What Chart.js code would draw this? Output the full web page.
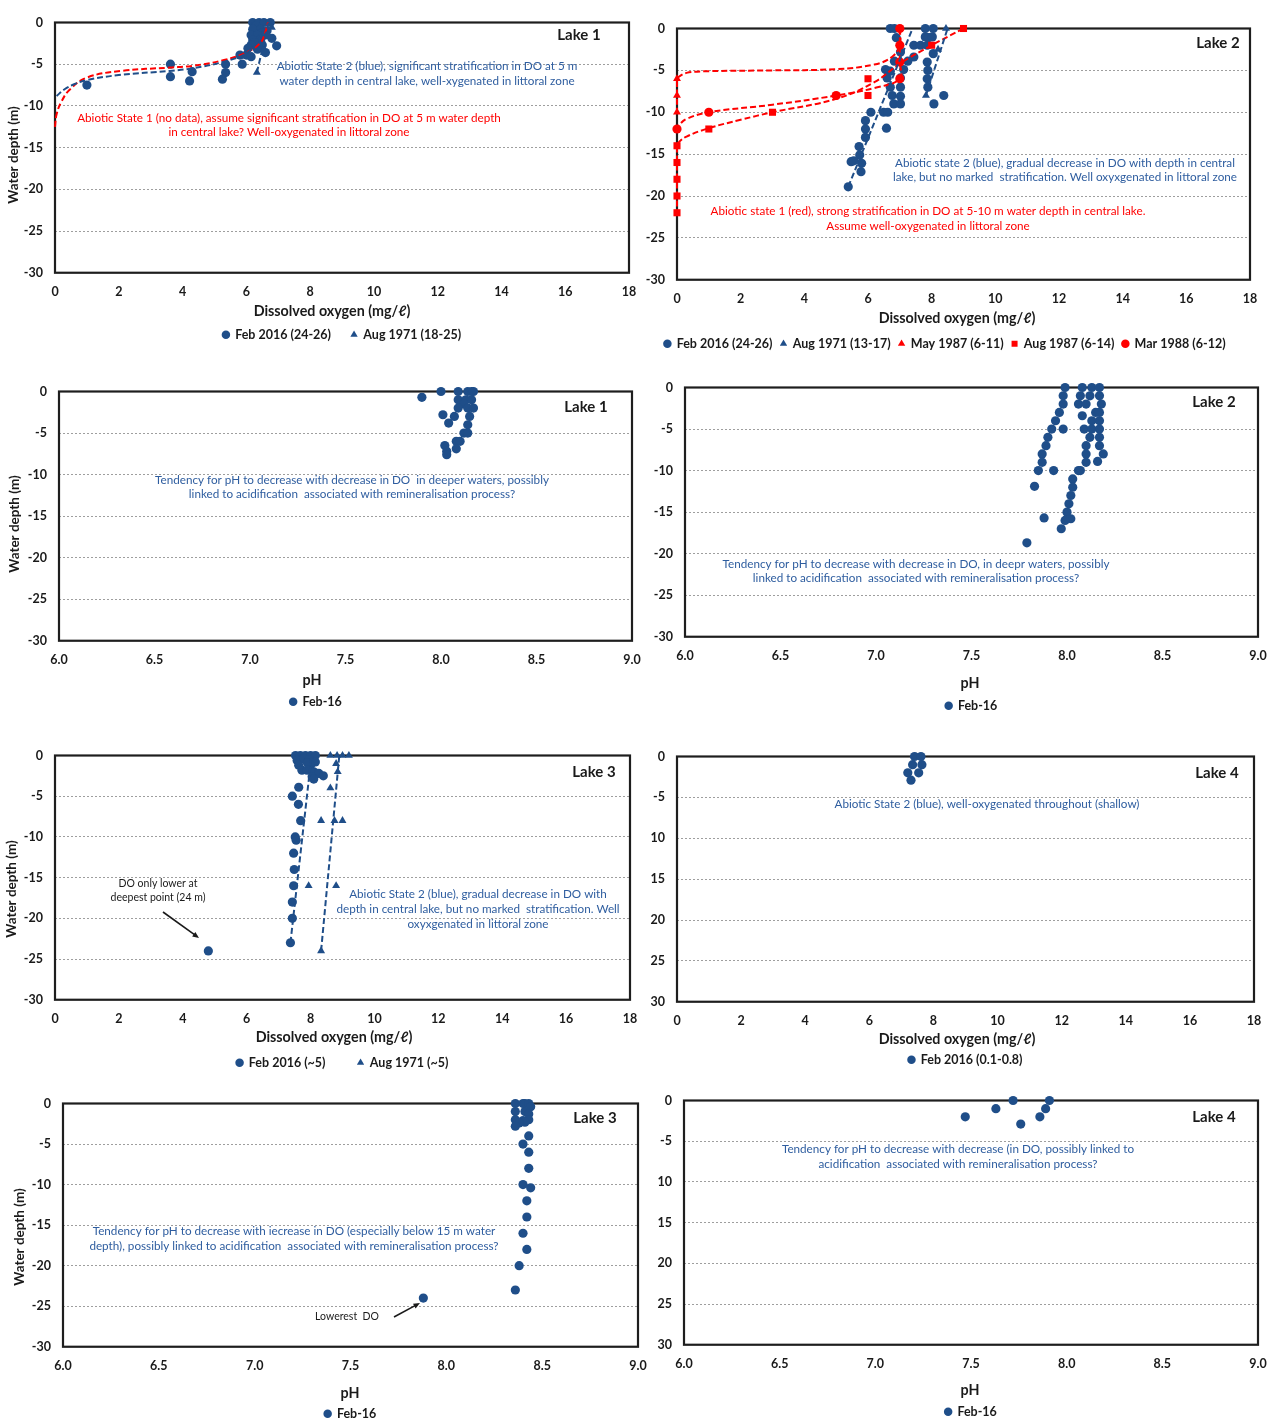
<!DOCTYPE html>
<html>
<head>
<meta charset="utf-8">
<title>Lake profiles: dissolved oxygen and pH with depth</title>
<script src="https://cdn.jsdelivr.net/npm/chart.js@4.4.1/dist/chart.umd.min.js"></script>
<style>
  html, body { margin: 0; padding: 0; background: #ffffff; }
  body { position: relative; width: 1275px; height: 1426px; overflow: hidden; }
  canvas { position: absolute; }
</style>
</head>
<body>
<script>
// ---------- Tick labels ----------
const depthTicks      = ['0', '-5', '-10', '-15', '-20', '-25', '-30'];
const depthTicksLake4 = ['0', '-5', '10', '15', '20', '25', '30'];
const doTicks         = ['0', '2', '4', '6', '8', '10', '12', '14', '16', '18'];
const phTicks         = ['6.0', '6.5', '7.0', '7.5', '8.0', '8.5', '9.0'];

// ---------- Lake 1: dissolved oxygen [DO mg/l, depth m] ----------
const lake1DoFeb2016 = [
  [6.2, 0], [6.4, 0], [6.55, 0], [6.75, 0], [6.3, -0.4],
  [6.2, -0.8], [6.45, -0.8], [6.65, -1], [6.5, -1.2],
  [6.15, -1.5], [6.35, -1.5], [6.6, -1.5],
  [6.2, -2.1], [6.45, -2], [6.8, -1.9], [6.25, -2.4],
  [6.15, -2.7], [6.5, -2.7], [6.95, -2.8],
  [6.05, -3.1], [6.35, -3.2], [6.6, -3.6],
  [5.8, -3.9], [6.0, -3.9], [6.15, -4.1],
  [5.35, -5], [5.87, -5], [5.35, -6], [5.25, -6.8],
  [4.3, -5.9], [4.22, -7.0], [3.62, -5.0], [3.62, -6.5], [1.0, -7.5]
];
const lake1DoAug1971 = [[6.8, -0.6], [6.55, -3.2], [6.33, -6.0]];
const lake1DoAug1971Trend = [[6.33, -6.0], [6.7, 0]];
const lake1DoFeb2016Curve = [
  [0.05, -8.8], [0.3, -8.0], [0.6, -7.4], [1.0, -6.9], [2.0, -6.3], [3.6, -5.8],
  [4.3, -5.5], [5.3, -4.7], [6.0, -3.7], [6.35, -2.3], [6.5, -1.2]
];
const lake1DoState1Curve = [
  [0, -12.5], [0.05, -11], [0.2, -9.5], [0.45, -8.1], [1.0, -6.6], [2.1, -5.8],
  [3.6, -5.4], [4.3, -5.2], [5.3, -4.5], [6.0, -3.6], [6.45, -2.4], [6.6, -1.1], [6.68, 0]
];

// ---------- Lake 2: dissolved oxygen ----------
const lake2DoFeb2016 = [
  [6.7, 0], [6.83, 0], [7.8, 0], [8.05, 0],
  [6.89, -1.1], [7.8, -1], [7.9, -1.1], [8.02, -1],
  [7.44, -2], [7.65, -2], [7.86, -2],
  [7.02, -2.8], [7.44, -3.4], [8.05, -3],
  [6.83, -3.9], [7.25, -3.9], [7.86, -4],
  [6.55, -4.9], [6.7, -5.1], [7.12, -4.9], [7.88, -5],
  [6.6, -5.9], [7.02, -5.9], [7.86, -6],
  [6.7, -7], [7.02, -7], [7.88, -7],
  [6.76, -8], [7.02, -8.1], [8.38, -8],
  [6.81, -9], [7.02, -9], [8.07, -9],
  [6.09, -10], [6.49, -10], [6.62, -10],
  [5.92, -11], [5.92, -12], [6.58, -11.9],
  [5.92, -13], [5.72, -14.1], [5.74, -15.1],
  [5.47, -15.9], [5.55, -15.8], [5.8, -16.1], [5.78, -17.1], [5.38, -18.9]
];
const lake2DoAug1971 = [[8.45, 0], [8.2, -2.5], [7.82, -8]];
const lake2DoMay1987 = [[7, 0], [7, -2], [7, -4], [0, -6], [0, -8], [0, -10]];
const lake2DoAug1987 = [[9, 0], [8, -2], [6, -6], [6, -8], [3, -10], [1, -12], [0, -14], [0, -16], [0, -18], [0, -20], [0, -22]];
const lake2DoMar1988 = [[7, 0], [7, -2], [7, -4], [7, -6], [5, -8], [1, -10], [0, -12]];
const lake2DoFeb2016Trend = [[5.38, -18.9], [7.4, 0]];
const lake2DoAug1971Trend = [[7.82, -8], [8.5, 0]];
const lake2DoMay1987Curve = [
  [7, 0], [7, -2], [6.75, -3.4], [6.2, -4.3], [5, -4.85], [3, -5.0], [1, -5.1],
  [0.3, -5.3], [0.05, -5.8], [0, -6.2], [0, -8], [0, -10]
];
const lake2DoMar1988Curve = [
  [7, 0], [7, -2], [7, -4], [7, -6], [6.2, -7.1], [5, -8], [3, -9.1], [1, -10],
  [0.3, -10.8], [0.05, -11.6], [0, -12]
];
const lake2DoAug1987Curve = [
  [9, 0], [8, -2], [7, -4.2], [6.2, -6.4], [5, -8.4], [3, -10], [2, -10.9], [1, -11.9],
  [0.3, -12.9], [0.05, -13.6], [0, -14], [0, -16], [0, -18], [0, -20], [0, -22]
];

// ---------- Lake 3: dissolved oxygen ----------
const lake3DoFeb2016 = [
  [7.53, 0], [7.68, 0], [7.84, 0], [8.0, 0], [8.15, 0],
  [7.58, -0.6], [7.79, -0.4], [7.95, -0.5], [8.15, -0.8],
  [7.63, -1.2], [8.0, -1.2], [7.9, -0.9],
  [7.73, -1.8], [7.89, -1.8], [8.1, -2], [8.26, -2.2], [8.4, -2.5],
  [8.05, -2.6], [8.1, -2.9],
  [7.63, -3.9], [7.43, -5], [7.62, -6], [7.69, -8],
  [7.52, -10], [7.55, -10.4], [7.47, -12], [7.49, -14], [7.47, -16],
  [7.43, -18], [7.43, -20], [7.37, -23], [4.8, -24]
];
const lake3DoAug1971 = [
  [8.62, 0], [8.83, 0], [9.0, 0], [9.2, 0], [8.8, -1], [8.85, -2], [8.62, -4],
  [8.33, -8], [8.75, -8], [9.0, -8], [7.94, -16], [8.8, -16], [8.33, -24]
];
const lake3DoFeb2016Trend = [[7.37, -23], [8.03, 0]];
const lake3DoAug1971Trend = [[8.33, -24], [8.9, 0]];

// ---------- Lake 4: dissolved oxygen ----------
const lake4DoFeb2016 = [[7.41, 0], [7.61, 0], [7.35, -1], [7.64, -1], [7.2, -2], [7.54, -2], [7.3, -2.9]];

// ---------- pH profiles, Feb 2016 [pH, depth m] ----------
const lake1PhFeb2016 = [
  [7.90, -0.7], [8.00, 0], [8.09, 0], [8.14, 0], [8.16, 0], [8.17, 0],
  [8.09, -1], [8.13, -1], [8.16, -1], [8.12, -1.5], [8.09, -2], [8.14, -2], [8.17, -2],
  [8.01, -2.8], [8.07, -3], [8.15, -3], [8.04, -3.8], [8.14, -4], [8.12, -5], [8.14, -5],
  [8.08, -6], [8.10, -6], [8.02, -6.5], [8.08, -6.9], [8.03, -7.2], [8.03, -7.6]
];
const lake2PhFeb2016 = [
  [7.99, 0], [8.08, 0], [8.13, 0], [8.17, 0],
  [7.98, -1], [8.07, -1], [8.12, -1], [8.17, -1],
  [7.98, -2], [8.06, -2], [8.10, -2], [8.18, -2],
  [7.96, -3], [8.15, -3], [8.17, -3], [8.08, -3.4],
  [7.94, -4], [8.13, -4], [8.17, -4],
  [7.92, -5], [7.98, -5], [8.09, -5], [8.13, -5], [8.17, -5],
  [7.90, -6], [8.12, -6], [8.17, -6],
  [7.89, -7], [8.10, -7], [8.17, -7],
  [7.87, -8], [8.10, -8], [8.19, -8],
  [7.87, -9], [8.10, -9], [8.16, -8.9],
  [7.85, -10], [7.93, -10], [8.06, -10], [8.07, -10],
  [8.03, -11], [7.83, -11.9], [8.03, -12], [8.02, -13], [8.01, -14], [8.00, -15],
  [7.88, -15.7], [8.02, -15.8], [7.99, -16], [7.97, -17], [7.79, -18.7]
];
const lake3PhFeb2016 = [
  [8.36, 0], [8.40, 0], [8.41, 0], [8.43, 0], [8.44, -0.4],
  [8.36, -1], [8.41, -1], [8.43, -1.3], [8.36, -2], [8.40, -2.1], [8.43, -2],
  [8.41, -2.3], [8.38, -2.4], [8.36, -2.8], [8.43, -4], [8.40, -5], [8.43, -6],
  [8.43, -8], [8.40, -10], [8.44, -10.4], [8.42, -12], [8.42, -14], [8.40, -16],
  [8.42, -18], [8.38, -20], [8.36, -23], [7.88, -24]
];
const lake4PhFeb2016 = [[7.47, -2], [7.63, -1], [7.72, 0], [7.76, -2.9], [7.86, -2], [7.89, -1], [7.91, 0]];

// ---------- Styling ----------
const FONT = 'Lato, "Noto Sans", "DejaVu Sans", sans-serif';
const INK = '#1a1a1a';
const MARK_BLUE = '#1f4e89';
const NOTE_BLUE = '#2e5d9f';
const RED = '#ff0000';
const NOTE_SIZE = 11.7;

function pts(arr) { return arr.map(([x, y]) => ({ x, y })); }

function markers(label, arr, color, style, order, radius) {
  return {
    label, data: pts(arr), showLine: false, clip: false, order,
    pointStyle: style, pointRadius: radius || 4.6, pointHoverRadius: radius || 4.6,
    pointBackgroundColor: color, pointBorderColor: color, pointBorderWidth: 0,
    backgroundColor: color, borderColor: color, borderWidth: 0
  };
}
function dashed(arr, color, tension) {
  return {
    label: '', data: pts(arr), showLine: true, clip: false, order: -10,
    pointRadius: 0, pointHoverRadius: 0, borderColor: color, backgroundColor: color,
    borderWidth: 2, borderDash: [6, 3], tension: tension || 0, fill: false
  };
}

function drawLabel(ctx, t, CL, CT) {
  ctx.save();
  ctx.font = (t.weight || 'normal') + ' ' + t.size + 'px ' + FONT;
  ctx.fillStyle = t.color || INK;
  ctx.textAlign = t.align || 'center';
  ctx.textBaseline = 'middle';
  if (t.rotate) {
    ctx.translate(t.x - CL, t.y - CT);
    ctx.rotate(-Math.PI / 2);
    ctx.fillText(t.text, 0, 0);
  } else {
    ctx.fillText(t.text, t.x - CL, t.y - CT);
  }
  ctx.restore();
}
function drawArrow(ctx, a, CL, CT) {
  const x1 = a[0] - CL, y1 = a[1] - CT, x2 = a[2] - CL, y2 = a[3] - CT;
  const ang = Math.atan2(y2 - y1, x2 - x1), hl = 7;
  ctx.save();
  ctx.strokeStyle = INK; ctx.fillStyle = INK; ctx.lineWidth = 1.6;
  ctx.beginPath(); ctx.moveTo(x1, y1);
  ctx.lineTo(x2 - Math.cos(ang) * hl * 0.8, y2 - Math.sin(ang) * hl * 0.8); ctx.stroke();
  ctx.beginPath(); ctx.moveTo(x2, y2);
  ctx.lineTo(x2 - hl * Math.cos(ang - 0.4), y2 - hl * Math.sin(ang - 0.4));
  ctx.lineTo(x2 - hl * Math.cos(ang + 0.4), y2 - hl * Math.sin(ang + 0.4));
  ctx.closePath(); ctx.fill();
  ctx.restore();
}

function makePanel(p) {
  const cv = document.createElement('canvas');
  const CL = p.left, CT = p.plot.T - 12;
  const W = p.plot.R - CL + 24;
  const lp = p.legend.pad;
  const FS = 12.5;
  const S = (p.legend.y - p.plot.B) - lp - FS / 2;
  const H = Math.round(12 + (p.plot.B - p.plot.T) + S + FS + lp + 10);
  cv.width = W; cv.height = H;
  cv.style.left = CL + 'px'; cv.style.top = CT + 'px';
  cv.style.width = W + 'px'; cv.style.height = H + 'px';
  document.body.appendChild(cv);

  const isPh = p.xKind === 'ph';
  const xLabels = isPh ? phTicks : doTicks;
  const tickFont = { family: FONT, size: 12.5, weight: 'bold' };

  const frameAndText = {
    id: 'frameAndText',
    beforeDatasetsDraw(chart) {
      const { ctx, chartArea: a } = chart;
      ctx.save();
      ctx.strokeStyle = '#1e1e1e';
      ctx.lineWidth = 2.2;
      ctx.strokeRect(a.left, a.top, a.right - a.left, a.bottom - a.top);
      ctx.restore();
    },
    afterDraw(chart) {
      const ctx = chart.ctx;
      p.texts.forEach(t => drawLabel(ctx, t, CL, CT));
      (p.arrows || []).forEach(a => drawArrow(ctx, a, CL, CT));
    }
  };

  new Chart(cv, {
    type: 'scatter',
    data: { datasets: p.datasets },
    options: {
      responsive: false,
      animation: false,
      devicePixelRatio: 1,
      events: [],
      layout: { padding: { top: 12, left: 0, right: W - (p.plot.R - CL), bottom: 0 } },
      scales: {
        x: {
          type: 'linear',
          min: isPh ? 6 : 0, max: isPh ? 9 : 18,
          afterFit(scale) { scale.height = S; },
          grid: { display: false, drawTicks: false },
          border: { display: false },
          ticks: {
            stepSize: isPh ? 0.5 : 2, autoSkip: false, maxRotation: 0, padding: 12,
            font: tickFont, color: INK,
            callback: (v, i) => xLabels[i]
          }
        },
        y: {
          type: 'linear', min: -30, max: 0,
          afterFit(scale) { scale.width = p.plot.L - CL; },
          grid: { color: '#9e9e9e', lineWidth: 1, drawTicks: false },
          border: { display: false, dash: [2, 2] },
          ticks: {
            stepSize: 5, padding: 12, font: tickFont, color: INK,
            callback: (v) => p.yLabels[Math.round(-v / 5)]
          }
        }
      },
      plugins: {
        tooltip: { enabled: false },
        legend: {
          position: 'bottom',
          fullSize: !!p.legend.full,
          labels: {
            usePointStyle: true, boxWidth: 6, boxHeight: 6, padding: lp,
            font: { family: FONT, size: FS, weight: 'bold' }, color: INK,
            filter: (item) => !!item.text,
            sort: (a, b) => a.datasetIndex - b.datasetIndex
          }
        }
      }
    },
    plugins: [frameAndText]
  });
}

const DO_TITLE = 'Dissolved oxygen (mg/\u2113)';
const Y_TITLE = 'Water depth (m)';
function lakeTag(text, x, y) { return { text, x, y, size: 15, weight: 'bold', color: INK }; }
function axisTitle(text, x, y) { return { text, x, y, size: 14.3, weight: 'bold', color: INK }; }
function depthTitle(x, y) { return { text: Y_TITLE, x, y, size: 13.5, weight: 'bold', color: INK, rotate: true }; }
function note(text, x, y, color, size) { return { text, x, y, size: size || NOTE_SIZE, color }; }

// ---------- Panels ----------
const panels = [
  { // Lake 1 DO
    left: 0, plot: { L: 55, T: 15, R: 629, B: 273 }, xKind: 'do', yLabels: depthTicks,
    legend: { y: 335, pad: 20, full: false },
    datasets: [
      markers('Feb 2016 (24-26)', lake1DoFeb2016, MARK_BLUE, 'circle', 5),
      markers('Aug 1971 (18-25)', lake1DoAug1971, MARK_BLUE, 'triangle', 4),
      dashed(lake1DoFeb2016Curve, MARK_BLUE, 0.4),
      dashed(lake1DoAug1971Trend, MARK_BLUE),
      dashed(lake1DoState1Curve, RED, 0.4)
    ],
    texts: [
      lakeTag('Lake 1', 579, 35),
      axisTitle(DO_TITLE, 332, 311),
      depthTitle(14, 155),
      note('Abiotic State 2 (blue), significant stratification in DO at 5 m', 427, 66, NOTE_BLUE),
      note('water depth in central lake, well-xygenated in littoral zone', 427, 81, NOTE_BLUE),
      note('Abiotic State 1 (no data), assume significant stratification in DO at 5 m water depth', 289, 118, RED),
      note('in central lake? Well-oxygenated in littoral zone', 289, 132, RED)
    ]
  },
  { // Lake 2 DO
    left: 640, plot: { L: 677, T: 21, R: 1250, B: 280 }, xKind: 'do', yLabels: depthTicks,
    legend: { y: 344, pad: 8, full: true },
    datasets: [
      markers('Feb 2016 (24-26)', lake2DoFeb2016, MARK_BLUE, 'circle', 5),
      markers('Aug 1971 (13-17)', lake2DoAug1971, MARK_BLUE, 'triangle', 4),
      markers('May 1987 (6-11)', lake2DoMay1987, RED, 'triangle', 3),
      markers('Aug 1987 (6-14)', lake2DoAug1987, RED, 'rect', 2, 5),
      markers('Mar 1988 (6-12)', lake2DoMar1988, RED, 'circle', 1),
      dashed(lake2DoFeb2016Trend, MARK_BLUE),
      dashed(lake2DoAug1971Trend, MARK_BLUE),
      dashed(lake2DoMay1987Curve, RED, 0.4),
      dashed(lake2DoMar1988Curve, RED, 0.4),
      dashed(lake2DoAug1987Curve, RED, 0.4)
    ],
    texts: [
      lakeTag('Lake 2', 1218, 43),
      axisTitle(DO_TITLE, 957, 318),
      note('Abiotic state 2 (blue), gradual decrease in DO with depth in central', 1065, 163, NOTE_BLUE),
      note('lake, but no marked  stratification. Well oxyxgenated in littoral zone', 1065, 177, NOTE_BLUE),
      note('Abiotic state 1 (red), strong stratification in DO at 5-10 m water depth in central lake.', 928, 211, RED),
      note('Assume well-oxygenated in littoral zone', 928, 226, RED)
    ]
  },
  { // Lake 1 pH
    left: 0, plot: { L: 59, T: 384, R: 632, B: 641 }, xKind: 'ph', yLabels: depthTicks,
    legend: { y: 702, pad: 10, full: true },
    datasets: [markers('Feb-16', lake1PhFeb2016, MARK_BLUE, 'circle', 1)],
    texts: [
      lakeTag('Lake 1', 586, 407),
      axisTitle('pH', 312, 680),
      depthTitle(15, 524),
      note('Tendency for pH to decrease with decrease in DO  in deeper waters, possibly', 352, 480, NOTE_BLUE),
      note('linked to acidification  associated with remineralisation process?', 352, 494, NOTE_BLUE)
    ]
  },
  { // Lake 2 pH
    left: 640, plot: { L: 685, T: 380, R: 1258, B: 637 }, xKind: 'ph', yLabels: depthTicks,
    legend: { y: 706, pad: 10, full: false },
    datasets: [markers('Feb-16', lake2PhFeb2016, MARK_BLUE, 'circle', 1)],
    texts: [
      lakeTag('Lake 2', 1214, 402),
      axisTitle('pH', 970, 683),
      note('Tendency for pH to decrease with decrease in DO, in deepr waters, possibly', 916, 564, NOTE_BLUE),
      note('linked to acidification  associated with remineralisation process?', 916, 578, NOTE_BLUE)
    ]
  },
  { // Lake 3 DO
    left: 0, plot: { L: 55, T: 748, R: 630, B: 1000 }, xKind: 'do', yLabels: depthTicks,
    legend: { y: 1063, pad: 32, full: false },
    datasets: [
      markers('Feb 2016 (~5)', lake3DoFeb2016, MARK_BLUE, 'circle', 5),
      markers('Aug 1971 (~5)', lake3DoAug1971, MARK_BLUE, 'triangle', 4),
      dashed(lake3DoFeb2016Trend, MARK_BLUE),
      dashed(lake3DoAug1971Trend, MARK_BLUE)
    ],
    texts: [
      lakeTag('Lake 3', 594, 772),
      axisTitle(DO_TITLE, 334, 1037),
      depthTitle(12, 889),
      note('DO only lower at', 158, 884, INK, 10.5),
      note('deepest point (24 m)', 158, 898, INK, 10.5),
      note('Abiotic State 2 (blue), gradual decrease in DO with', 478, 894, NOTE_BLUE),
      note('depth in central lake, but no marked  stratification. Well', 478, 909, NOTE_BLUE),
      note('oxyxgenated in littoral zone', 478, 924, NOTE_BLUE)
    ],
    arrows: [[163, 912, 199, 938]]
  },
  { // Lake 4 DO
    left: 640, plot: { L: 677, T: 749, R: 1254, B: 1002 }, xKind: 'do', yLabels: depthTicksLake4,
    legend: { y: 1060, pad: 10, full: false },
    datasets: [markers('Feb 2016 (0.1-0.8)', lake4DoFeb2016, MARK_BLUE, 'circle', 1)],
    texts: [
      lakeTag('Lake 4', 1217, 773),
      axisTitle(DO_TITLE, 957, 1039),
      note('Abiotic State 2 (blue), well-oxygenated throughout (shallow)', 987, 804, NOTE_BLUE)
    ]
  },
  { // Lake 3 pH
    left: 0, plot: { L: 63, T: 1096, R: 638, B: 1347 }, xKind: 'ph', yLabels: depthTicks,
    legend: { y: 1414, pad: 10, full: false },
    datasets: [markers('Feb-16', lake3PhFeb2016, MARK_BLUE, 'circle', 1)],
    texts: [
      lakeTag('Lake 3', 595, 1118),
      axisTitle('pH', 350, 1393),
      depthTitle(20, 1237),
      note('Tendency for pH to decrease with iecrease in DO (especially below 15 m water', 294, 1231, NOTE_BLUE),
      note('depth), possibly linked to acidification  associated with remineralisation process?', 294, 1246, NOTE_BLUE),
      note('Lowerest  DO', 347, 1317, INK, 10.5)
    ],
    arrows: [[394, 1317, 420, 1303]]
  },
  { // Lake 4 pH
    left: 640, plot: { L: 684, T: 1093, R: 1258, B: 1345 }, xKind: 'ph', yLabels: depthTicksLake4,
    legend: { y: 1412, pad: 10, full: false },
    datasets: [markers('Feb-16', lake4PhFeb2016, MARK_BLUE, 'circle', 1)],
    texts: [
      lakeTag('Lake 4', 1214, 1117),
      axisTitle('pH', 970, 1390),
      note('Tendency for pH to decrease with decrease (in DO, possibly linked to', 958, 1149, NOTE_BLUE),
      note('acidification  associated with remineralisation process?', 958, 1164, NOTE_BLUE)
    ]
  }
];

panels.forEach(makePanel);
</script>
</body>
</html>
